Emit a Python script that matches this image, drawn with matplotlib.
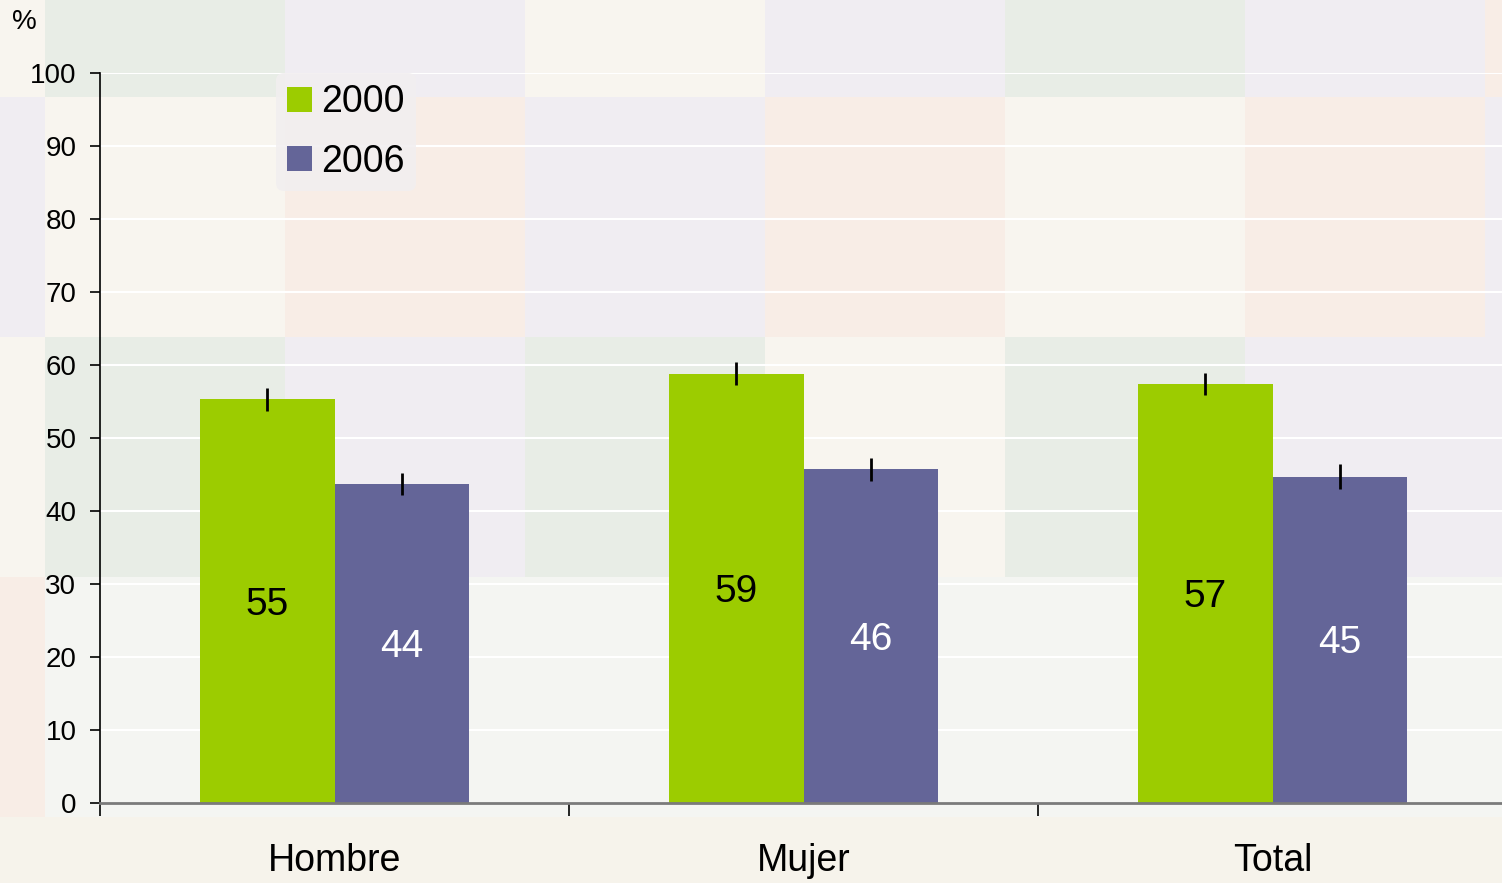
"""
Porcentaje por sexo, 2000 vs 2006 (barras con intervalos de confianza).
Saves out.png (1502x883).
"""

import matplotlib

matplotlib.use("Agg")
import matplotlib.pyplot as plt
import numpy as np
from matplotlib.patches import Rectangle

plt.rcParams["font.family"] = ["Liberation Sans", "DejaVu Sans"]

# --- data -------------------------------------------------------------------
categories = ["Hombre", "Mujer", "Total"]
years = ["2000", "2006"]
values_2000 = [55.3, 58.8, 57.4]
values_2006 = [43.7, 45.7, 44.7]
err_2000 = [1.55, 1.6, 1.55]
err_2006 = [1.5, 1.6, 1.7]
labels_2000 = ["55", "59", "57"]
labels_2006 = ["44", "46", "45"]
yticks = list(range(0, 101, 10))

# --- style ------------------------------------------------------------------
GREEN = "#9ccc00"
PURPLE = "#646598"
W_PX, H_PX, DPI = 1502, 883, 100

# faint tiled backdrop (decoration only)
TILE_X = [0, 45, 285, 525, 765, 1005, 1245, 1485, 1502]
TILE_Y = [0, 97, 337, 577, 817, 883]
G, L, C, P, W, B = "#e8ede6", "#f0edf2", "#f8f5ef", "#f8ede6", "#f4f5f2", "#f6f3eb"
TILE_COLORS = [
    [C, G, L, C, L, G, L, P],
    [L, C, P, L, P, C, P, L],
    [C, G, L, G, C, G, L, L],
    [P, W, W, W, W, W, W, W],
    [B, B, B, B, B, B, B, B],
]


def draw_backdrop(fig):
    bg = fig.add_axes([0, 0, 1, 1], zorder=-10)
    bg.set_xlim(0, W_PX)
    bg.set_ylim(H_PX, 0)
    bg.axis("off")
    for r, row in enumerate(TILE_COLORS):
        for c, col in enumerate(row):
            bg.add_patch(Rectangle((TILE_X[c], TILE_Y[r]),
                                   TILE_X[c + 1] - TILE_X[c],
                                   TILE_Y[r + 1] - TILE_Y[r],
                                   facecolor=col, edgecolor="none"))


def main():
    fig = plt.figure(figsize=(W_PX / DPI, H_PX / DPI), dpi=DPI)
    draw_backdrop(fig)

    ax = fig.add_axes([100 / W_PX, 1 - 803 / H_PX, 1407 / W_PX, 730 / H_PX])
    ax.set_facecolor("none")

    x = np.arange(len(categories))
    bw = 0.287
    ax.bar(x - bw / 2, values_2000, bw, color=GREEN, label=years[0], zorder=2)
    ax.bar(x + bw / 2, values_2006, bw, color=PURPLE, label=years[1], zorder=2)
    ax.errorbar(x - bw / 2, values_2000, yerr=err_2000, fmt="none",
                ecolor="black", elinewidth=2, capsize=0, zorder=3)
    ax.errorbar(x + bw / 2, values_2006, yerr=err_2006, fmt="none",
                ecolor="black", elinewidth=2, capsize=0, zorder=3)

    for xi, v, t in zip(x - bw / 2, values_2000, labels_2000):
        ax.text(xi, v / 2 - 0.5, t, ha="center", va="center", fontsize=28, color="black", zorder=4)
    for xi, v, t in zip(x + bw / 2, values_2006, labels_2006):
        ax.text(xi, v / 2 - 0.5, t, ha="center", va="center", fontsize=28, color="white", zorder=4)

    ax.set_xlim(-0.5, len(categories) - 0.5)
    ax.set_ylim(0, 100)
    ax.set_yticks(yticks)
    ax.tick_params(axis="y", labelsize=20, length=7, width=1.2, pad=10, direction="out")

    # category boundaries as major ticks, names on minor ticks
    ax.set_xticks(np.arange(len(categories) + 1) - 0.5)
    ax.set_xticklabels([])
    ax.tick_params(axis="x", which="major", length=9, width=1.2, direction="out")
    ax.set_xticks(x, minor=True)
    ax.set_xticklabels(categories, minor=True, fontsize=27)
    ax.tick_params(axis="x", which="minor", length=0, pad=29)

    ax.yaxis.grid(True, color="white", linewidth=1.5, zorder=0)
    ax.set_axisbelow(True)
    for s in ("top", "right"):
        ax.spines[s].set_visible(False)
    ax.spines["left"].set_color("black")
    ax.spines["left"].set_linewidth(1.2)
    ax.spines["bottom"].set_color("#7a7a7a")
    ax.spines["bottom"].set_linewidth(2)

    leg = ax.legend(loc="upper left", bbox_to_anchor=(276 / W_PX, 1 - 73 / H_PX),
                    bbox_transform=fig.transFigure, fontsize=27, frameon=True,
                    handlelength=0.65, handleheight=0.65, handletextpad=0.25,
                    labelspacing=0.62, borderpad=0.3, borderaxespad=0)
    leg.get_frame().set_facecolor("#f2eff0")
    leg.get_frame().set_edgecolor("none")
    leg.get_frame().set_alpha(0.9)

    fig.text(12 / W_PX, 1 - 22 / H_PX, "%", fontsize=20, ha="left", va="center")

    fig.savefig("out.png", dpi=DPI)
    plt.close(fig)


if __name__ == "__main__":
    main()
